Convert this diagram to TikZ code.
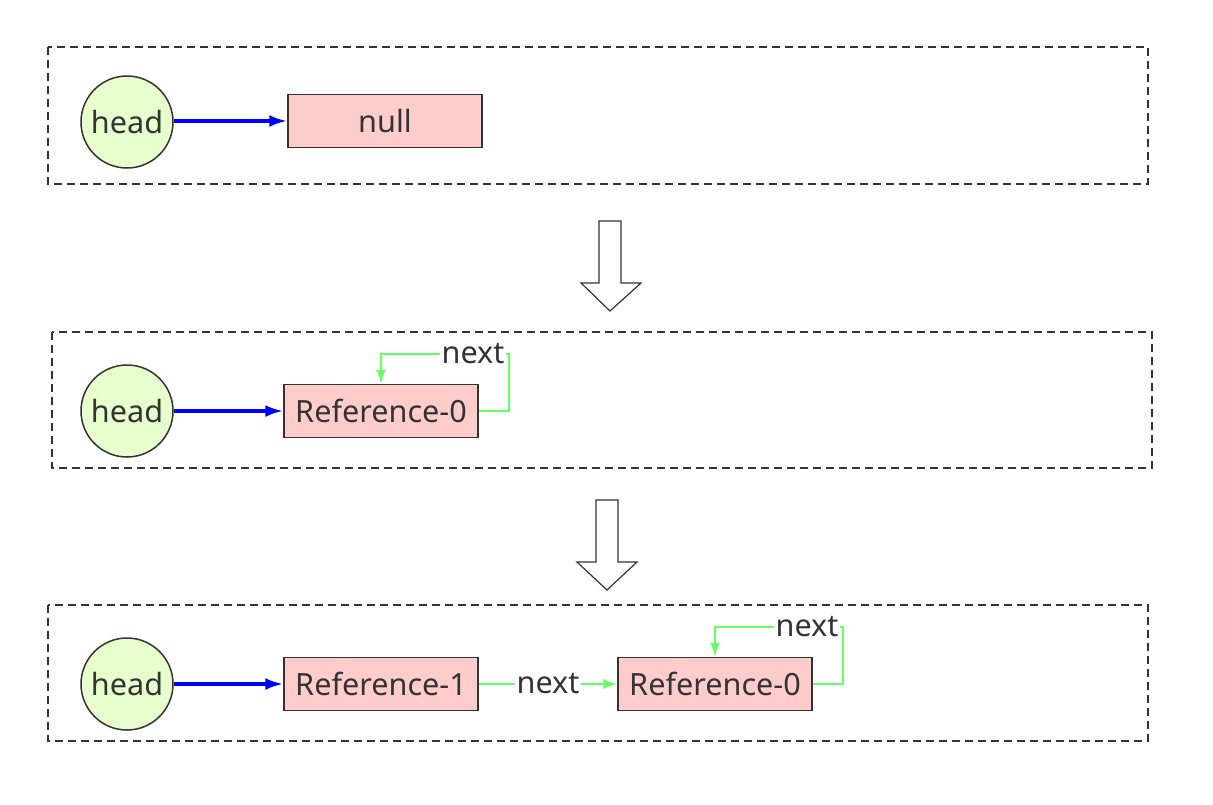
\documentclass[tikz,border=0pt]{standalone}
\usepackage{fontspec}
\setmainfont{Noto Sans}
\usetikzlibrary{arrows.meta}
\usetikzlibrary{calc}
\definecolor{headfill}{HTML}{E6FFCC}
\definecolor{reffill}{HTML}{FFCCCC}
\definecolor{textgray}{HTML}{333333}
\definecolor{nextgreen}{HTML}{66FF66}
\tikzset{
  headnode/.style={shape=circle,draw=textgray,fill=headfill,line width=0.75pt,minimum size=46pt,inner sep=0pt,text=textgray,font=\fontsize{15.3}{17}\selectfont},
  refnode/.style={shape=rectangle,draw=textgray,fill=reffill,line width=0.75pt,minimum width=97pt,minimum height=26.5pt,inner sep=0pt,text=textgray,font=\fontsize{15.3}{17}\selectfont},
  panel/.style={draw=textgray,line width=0.7pt,dash pattern=on 4pt off 2.5pt},
  headlink/.style={draw=blue,line width=1.6pt,-{Latex[length=9pt,width=6pt]}},
  nextlink/.style={draw=nextgreen,line width=0.9pt,-{Latex[length=7pt,width=5pt]}},
  nextlabel/.style={fill=white,inner sep=1pt,text=textgray,font=\fontsize{15.3}{17}\selectfont},
  stepdown/.style={draw=textgray,line width=0.6pt,fill=white}
}

\begin{document}
\begin{tikzpicture}[x=0.5pt,y=-0.5pt]
    \useasboundingbox (0,0) rectangle (1213,804);
    \draw[panel] (48,47) rectangle (1148,184);
    \draw[panel] (52,332) rectangle (1152,468);
    \draw[panel] (48,605) rectangle (1148,741);

    \node[headnode] (headA) at (127,122) {head};
    \node[refnode] (nullA) at (385,121) {null};
    \draw[headlink] (headA.east |- nullA) -- (nullA);

    \draw[stepdown] (599,221) -- (621,221) -- (621,283) -- (641,283) -- (610,311) -- (581,283) -- (599,283) -- cycle;

    \node[headnode] (headB) at (127,411) {head};
    \node[refnode] (refB) at (381,411) {Reference-0};
    \draw[headlink] (headB) -- (refB);
    \draw[nextlink] (refB.east) -- ++(30,0) |- node[nextlabel,pos=0.64] {next} ($(refB.north)+(0,-30)$) -- (refB.north);

    \draw[stepdown] (596,500) -- (618,500) -- (618,562) -- (637,562) -- (607,590) -- (577,562) -- (596,562) -- cycle;

    \node[headnode] (headC) at (127,684) {head};
    \node[refnode] (refC1) at (381,684) {Reference-1};
    \node[refnode] (refC0) at (715,684) {Reference-0};
    \draw[headlink] (headC) -- (refC1);
    \draw[nextlink] (refC1) -- node[nextlabel] {next} (refC0);
    \draw[nextlink] (refC0.east) -- ++(30,0) |- node[nextlabel,pos=0.64] {next} ($(refC0.north)+(0,-30)$) -- (refC0.north);
  \end{tikzpicture}
\end{document}
